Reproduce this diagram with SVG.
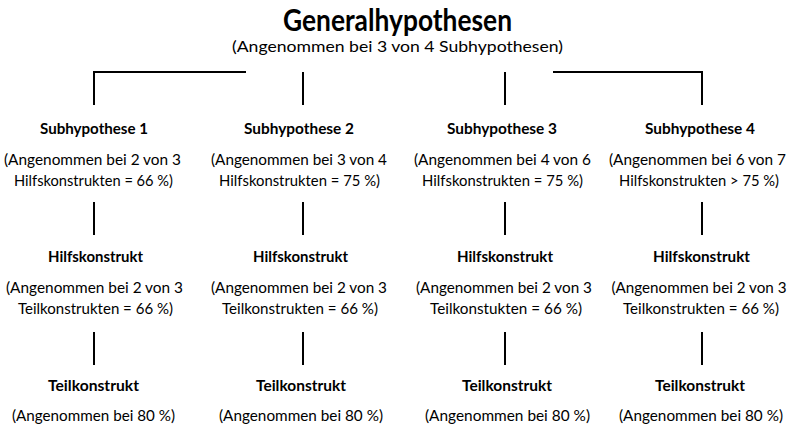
<svg xmlns="http://www.w3.org/2000/svg" width="790" height="428" viewBox="0 0 790 428">
<style>
text{font-family:Lato,"Open Sans","Liberation Sans",sans-serif;fill:#000;text-anchor:middle}
.t{font-size:30px;font-weight:bold}
.h{font-size:16px;font-weight:bold}
.b{font-size:16px}
.c{stroke:#000;stroke-width:2;fill:none}
</style>
<rect width="790" height="428" fill="#fff"/>
<g id="general">
<text class="t" x="397.5" y="31" textLength="229" lengthAdjust="spacingAndGlyphs">Generalhypothesen</text>
<text class="b" x="397.5" y="52" textLength="331" lengthAdjust="spacingAndGlyphs">(Angenommen bei 3 von 4 Subhypothesen)</text>
</g>
<g id="connectors">
<path class="c" d="M94,105V72H246"/>
<path class="c" d="M303,72V105"/>
<path class="c" d="M505,72V105"/>
<path class="c" d="M553,72H702V105"/>
<path class="c" d="M94,202V235M303,202V235M505,202V235M702,202V235"/>
<path class="c" d="M94,332V365M303,332V365M505,332V365M702,332V365"/>
</g>
<g id="sub1">
<text class="h" x="94" y="134" textLength="108" lengthAdjust="spacingAndGlyphs">Subhypothese 1</text>
<text class="b" x="92.5" y="165" textLength="177" lengthAdjust="spacingAndGlyphs">(Angenommen bei 2 von 3</text>
<text class="b" x="93.5" y="186" textLength="159" lengthAdjust="spacingAndGlyphs">Hilfskonstrukten = 66 %)</text>
</g>
<g id="hilf1">
<text class="h" x="95.5" y="262" textLength="95" lengthAdjust="spacingAndGlyphs">Hilfskonstrukt</text>
<text class="b" x="94.5" y="293" textLength="177" lengthAdjust="spacingAndGlyphs">(Angenommen bei 2 von 3</text>
<text class="b" x="95.5" y="314" textLength="155" lengthAdjust="spacingAndGlyphs">Teilkonstrukten = 66 %)</text>
</g>
<g id="teil1">
<text class="h" x="93.5" y="391" textLength="91" lengthAdjust="spacingAndGlyphs">Teilkonstrukt</text>
<text class="b" x="93.5" y="421" textLength="163" lengthAdjust="spacingAndGlyphs">(Angenommen bei 80 %)</text>
</g>
<g id="sub2">
<text class="h" x="299" y="134" textLength="110" lengthAdjust="spacingAndGlyphs">Subhypothese 2</text>
<text class="b" x="299" y="165" textLength="176" lengthAdjust="spacingAndGlyphs">(Angenommen bei 3 von 4</text>
<text class="b" x="299.5" y="186" textLength="161" lengthAdjust="spacingAndGlyphs">Hilfskonstrukten = 75 %)</text>
</g>
<g id="hilf2">
<text class="h" x="300.5" y="262" textLength="95" lengthAdjust="spacingAndGlyphs">Hilfskonstrukt</text>
<text class="b" x="299" y="293" textLength="176" lengthAdjust="spacingAndGlyphs">(Angenommen bei 2 von 3</text>
<text class="b" x="300" y="314" textLength="156" lengthAdjust="spacingAndGlyphs">Teilkonstrukten = 66 %)</text>
</g>
<g id="teil2">
<text class="h" x="301" y="391" textLength="90" lengthAdjust="spacingAndGlyphs">Teilkonstrukt</text>
<text class="b" x="301" y="421" textLength="164" lengthAdjust="spacingAndGlyphs">(Angenommen bei 80 %)</text>
</g>
<g id="sub3">
<text class="h" x="502" y="134" textLength="110" lengthAdjust="spacingAndGlyphs">Subhypothese 3</text>
<text class="b" x="502.5" y="165" textLength="177" lengthAdjust="spacingAndGlyphs">(Angenommen bei 4 von 6</text>
<text class="b" x="502.5" y="186" textLength="161" lengthAdjust="spacingAndGlyphs">Hilfskonstrukten = 75 %)</text>
</g>
<g id="hilf3">
<text class="h" x="505" y="262" textLength="96" lengthAdjust="spacingAndGlyphs">Hilfskonstrukt</text>
<text class="b" x="504" y="293" textLength="176" lengthAdjust="spacingAndGlyphs">(Angenommen bei 2 von 3</text>
<text class="b" x="506" y="314" textLength="152" lengthAdjust="spacingAndGlyphs">Teilkonstukten = 66 %)</text>
</g>
<g id="teil3">
<text class="h" x="507" y="391" textLength="90" lengthAdjust="spacingAndGlyphs">Teilkonstrukt</text>
<text class="b" x="507.5" y="421" textLength="165" lengthAdjust="spacingAndGlyphs">(Angenommen bei 80 %)</text>
</g>
<g id="sub4">
<text class="h" x="700" y="134" textLength="110" lengthAdjust="spacingAndGlyphs">Subhypothese 4</text>
<text class="b" x="697.5" y="165" textLength="177" lengthAdjust="spacingAndGlyphs">(Angenommen bei 6 von 7</text>
<text class="b" x="699" y="186" textLength="160" lengthAdjust="spacingAndGlyphs">Hilfskonstrukten &gt; 75 %)</text>
</g>
<g id="hilf4">
<text class="h" x="701.5" y="262" textLength="97" lengthAdjust="spacingAndGlyphs">Hilfskonstrukt</text>
<text class="b" x="699" y="293" textLength="175" lengthAdjust="spacingAndGlyphs">(Angenommen bei 2 von 3</text>
<text class="b" x="701" y="314" textLength="156" lengthAdjust="spacingAndGlyphs">Teilkonstrukten = 66 %)</text>
</g>
<g id="teil4">
<text class="h" x="700" y="391" textLength="90" lengthAdjust="spacingAndGlyphs">Teilkonstrukt</text>
<text class="b" x="701" y="421" textLength="164" lengthAdjust="spacingAndGlyphs">(Angenommen bei 80 %)</text>
</g>
</svg>
